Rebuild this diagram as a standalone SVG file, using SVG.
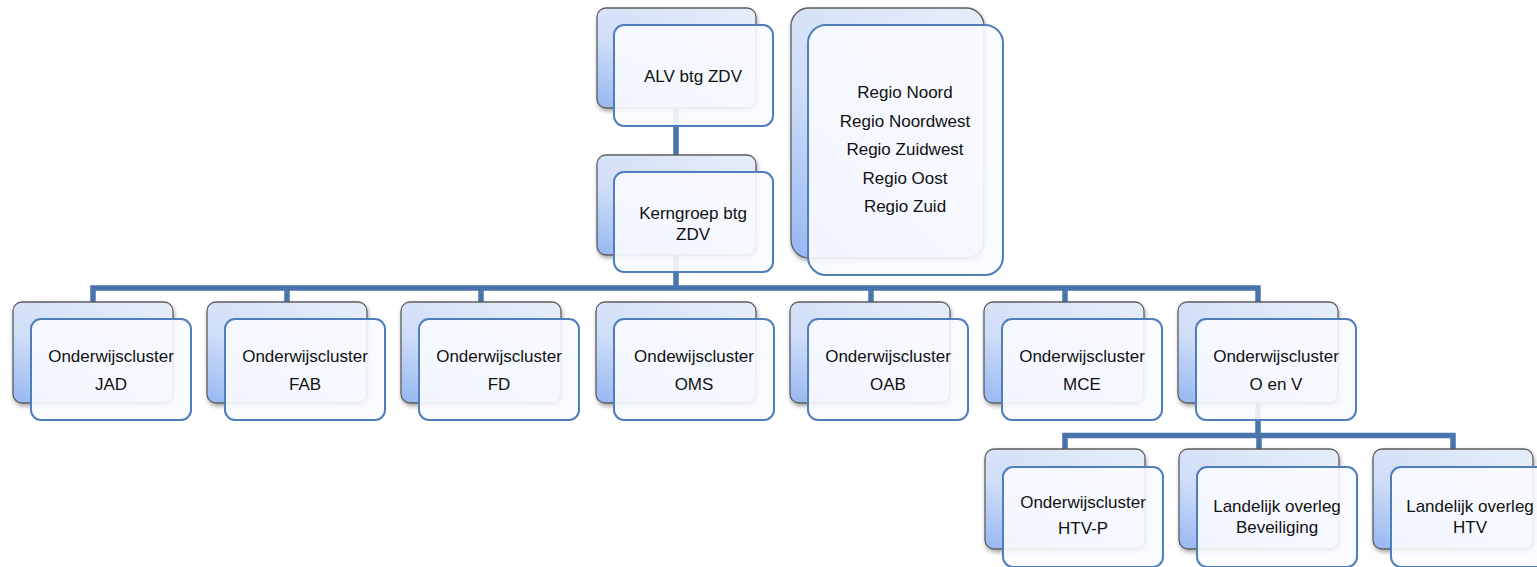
<svg xmlns="http://www.w3.org/2000/svg" width="1537" height="567" viewBox="0 0 1537 567">
<defs>
<linearGradient id="g" x1="0.75" y1="0" x2="0" y2="1">
<stop offset="0" stop-color="#E4ECFA"/>
<stop offset="0.55" stop-color="#CFDDF8"/>
<stop offset="1" stop-color="#95B6F2"/>
</linearGradient>
<filter id="sh" x="-10%" y="-10%" width="125%" height="130%">
<feDropShadow dx="1" dy="2.5" stdDeviation="2" flood-color="#000" flood-opacity="0.35"/>
</filter>
<style>
.bk{fill:url(#g);stroke:#5E5E5E;stroke-width:1.3;filter:url(#sh)}
.fr{fill:#FAFBFF;fill-opacity:0.9;stroke:#4F7EBD;stroke-width:2}
.cn{fill:none;stroke:#4A74AD;stroke-width:5.5;stroke-linejoin:miter}
text{font-family:"Liberation Sans",Arial,sans-serif;font-size:17px;fill:#111;text-anchor:middle}
</style>
</defs>
<rect width="1537" height="567" fill="#FFFFFF"/>
<g id="connectors">
<path class="cn" d="M676,108V155"/>
<path class="cn" d="M676,255V288"/>
<path class="cn" d="M93,302V288H1258V302"/>
<path class="cn" d="M287,288V302M481,288V302M871,288V302M1065,288V302"/>
<path class="cn" d="M1258,403V435.5"/>
<path class="cn" d="M1065,449V435.5H1453V449M1259,435.5V449"/>
</g>
<g id="alv">
<rect class="bk" x="597" y="8" width="159" height="100" rx="9"/>
<rect class="fr" x="614" y="25" width="159" height="101" rx="10"/>
<text x="693" y="82">ALV btg ZDV</text>
</g>
<g id="kerngroep">
<rect class="bk" x="597" y="155" width="159" height="100" rx="9"/>
<rect class="fr" x="614" y="172" width="159" height="100" rx="10"/>
<text x="693" y="219">Kerngroep btg</text>
<text x="693" y="240">ZDV</text>
</g>
<g id="regio">
<rect class="bk" x="791" y="8" width="193" height="250" rx="18"/>
<rect class="fr" x="808" y="25" width="195" height="250" rx="18"/>
<text x="905" y="98">Regio Noord</text>
<text x="905" y="127">Regio Noordwest</text>
<text x="905" y="155">Regio Zuidwest</text>
<text x="905" y="184">Regio Oost</text>
<text x="905" y="212">Regio Zuid</text>
</g>
<g id="jad">
<rect class="bk" x="13" y="302" width="160" height="101" rx="9"/>
<rect class="fr" x="31" y="319" width="160" height="101" rx="10"/>
<text x="111" y="362">Onderwijscluster</text>
<text x="111" y="390">JAD</text>
</g>
<g id="fab">
<rect class="bk" x="207" y="302" width="160" height="101" rx="9"/>
<rect class="fr" x="225" y="319" width="160" height="101" rx="10"/>
<text x="305" y="362">Onderwijscluster</text>
<text x="305" y="390">FAB</text>
</g>
<g id="fd">
<rect class="bk" x="401" y="302" width="160" height="101" rx="9"/>
<rect class="fr" x="419" y="319" width="160" height="101" rx="10"/>
<text x="499" y="362">Onderwijscluster</text>
<text x="499" y="390">FD</text>
</g>
<g id="oms">
<rect class="bk" x="596" y="302" width="160" height="101" rx="9"/>
<rect class="fr" x="614" y="319" width="160" height="101" rx="10"/>
<text x="694" y="362">Ondewijscluster</text>
<text x="694" y="390">OMS</text>
</g>
<g id="oab">
<rect class="bk" x="790" y="302" width="160" height="101" rx="9"/>
<rect class="fr" x="808" y="319" width="160" height="101" rx="10"/>
<text x="888" y="362">Onderwijscluster</text>
<text x="888" y="390">OAB</text>
</g>
<g id="mce">
<rect class="bk" x="984" y="302" width="160" height="101" rx="9"/>
<rect class="fr" x="1002" y="319" width="160" height="101" rx="10"/>
<text x="1082" y="362">Onderwijscluster</text>
<text x="1082" y="390">MCE</text>
</g>
<g id="oenv">
<rect class="bk" x="1178" y="302" width="160" height="101" rx="9"/>
<rect class="fr" x="1196" y="319" width="160" height="101" rx="10"/>
<text x="1276" y="362">Onderwijscluster</text>
<text x="1276" y="390">O en V</text>
</g>
<g id="htvp">
<rect class="bk" x="985" y="449" width="160" height="100" rx="9"/>
<rect class="fr" x="1003" y="467" width="160" height="100" rx="10"/>
<text x="1083" y="508">Onderwijscluster</text>
<text x="1083" y="534">HTV-P</text>
</g>
<g id="beveiliging">
<rect class="bk" x="1179" y="449" width="160" height="100" rx="9"/>
<rect class="fr" x="1197" y="467" width="160" height="100" rx="10"/>
<text x="1277" y="512">Landelijk overleg</text>
<text x="1277" y="533">Beveiliging</text>
</g>
<g id="htv">
<rect class="bk" x="1373" y="449" width="160" height="100" rx="9"/>
<rect class="fr" x="1391" y="467" width="160" height="100" rx="10"/>
<text x="1470" y="512">Landelijk overleg</text>
<text x="1470" y="533">HTV</text>
</g>
</svg>
